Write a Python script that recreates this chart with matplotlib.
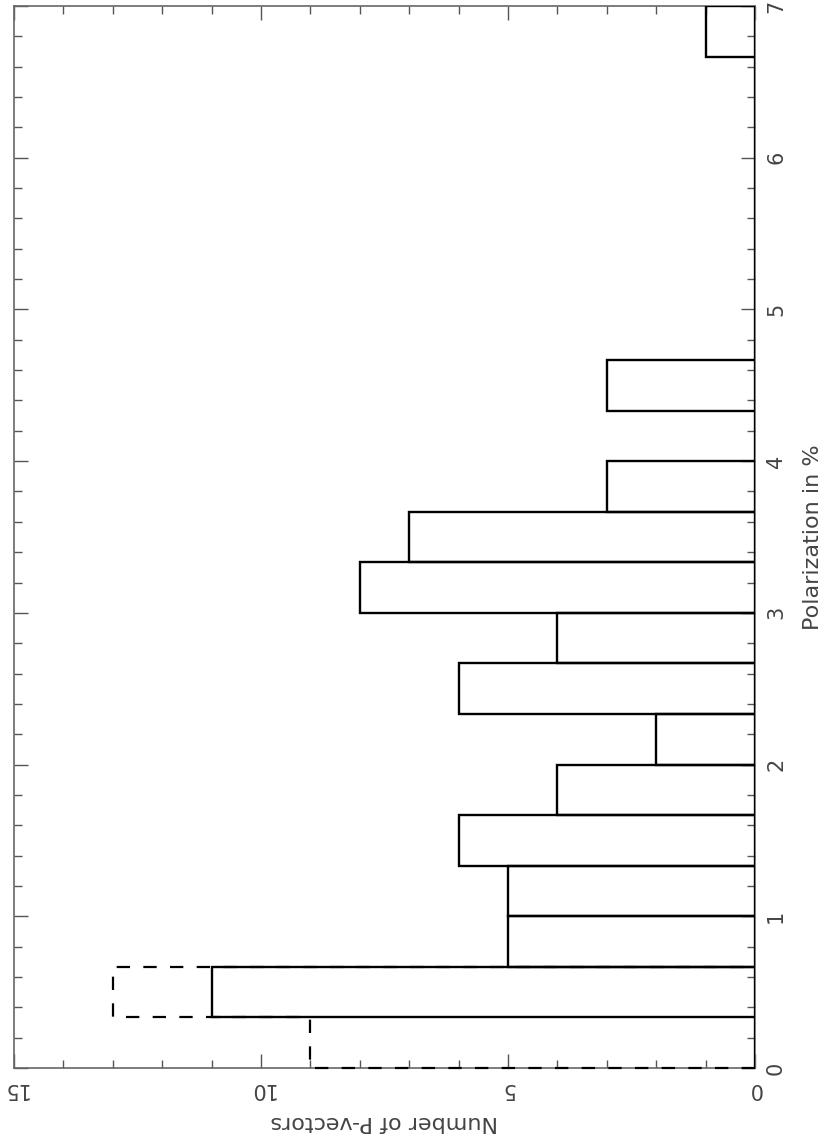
import numpy as np
import matplotlib
matplotlib.use("Agg")
import matplotlib.pyplot as plt
from matplotlib.ticker import MultipleLocator

# Histogram of polarization (bins of 1/3 %)
bin_edges = [i / 3 for i in range(22)]
counts = [0, 11, 5, 5, 6, 4, 2, 6, 4, 8, 7, 3, 0, 3, 0, 0, 0, 0, 0, 0, 1]
# dashed histogram (differs only in first bins)
dashed_edges = [0, 1 / 3, 2 / 3]
dashed_counts = [9, 13]

pol_ticks = [0, 1, 2, 3, 4, 5, 6, 7]
count_ticks = [0, 5, 10, 15]

fig = plt.figure(figsize=(8.3, 11.37), dpi=100)
ax = fig.add_axes([14 / 830, 69 / 1137, (755 - 14) / 830, (1068 - 6) / 1137])

ax.barh(bin_edges[:-1], counts, height=1 / 3, align='edge', fill=False,
        edgecolor='black', linewidth=1.7, zorder=3)
ax.stairs(dashed_counts, dashed_edges, orientation='horizontal', baseline=0,
          color='black', linewidth=1.6, linestyle=(0, (6, 6)),
          clip_on=False, zorder=4)

ax.set_xlim(15, 0)
ax.set_ylim(0, 7)

ax.xaxis.set_major_locator(MultipleLocator(5))
ax.xaxis.set_minor_locator(MultipleLocator(1))
ax.yaxis.set_major_locator(MultipleLocator(1))
ax.yaxis.set_minor_locator(MultipleLocator(0.2))
ax.set_xticks(count_ticks)
ax.set_yticks(pol_ticks)

tc = '#555555'
ax.tick_params(which='both', direction='in', top=True, bottom=True,
               left=True, right=True, color=tc, width=1)
ax.tick_params(which='major', length=10)
ax.tick_params(which='minor', length=6)
ax.tick_params(axis='y', labelleft=False, labelright=True, labelrotation=90,
               labelsize=15, labelcolor='#444444', pad=8)
ax.tick_params(axis='x', labelrotation=180, labelsize=15,
               labelcolor='#444444', pad=8)
for lab in ax.get_yticklabels():
    lab.set_va('center')
for sp in ax.spines.values():
    sp.set_color('#666666')
    sp.set_linewidth(1.2)
    sp.set_zorder(2)

ax.yaxis.set_label_position('right')
ax.set_ylabel('Polarization in %', rotation=90, fontsize=16, color='#444444',
              labelpad=12)
ax.set_xlabel('Number of P-vectors', rotation=180, fontsize=16,
              color='#444444', labelpad=9)

fig.savefig('out.png', dpi=100)
